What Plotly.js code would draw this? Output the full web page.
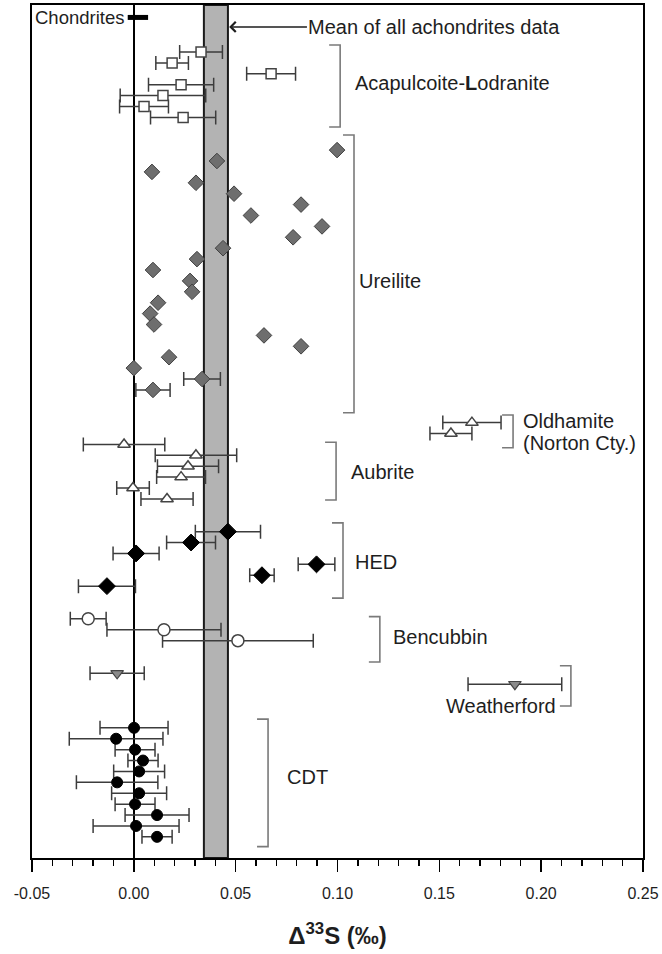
<!DOCTYPE html>
<html>
<head>
<meta charset="utf-8">
<script src="https://cdn.plot.ly/plotly-3.0.1.min.js"></script>
<style>html,body{margin:0;padding:0;background:#fff;}#chart{width:662px;height:954px;}</style>
</head>
<body>
<div id="chart"></div>
<script>
// ---- data (Δ33S ‰, 2σ error, sample row from top) ----
const acapulcoiteX   = [0.0330, 0.0188, 0.0674, 0.0232, 0.0143, 0.0050, 0.0242];
const acapulcoiteErr = [0.0105, 0.0080, 0.0120, 0.0160, 0.0210, 0.0120, 0.0160];
const acapulcoiteRow = [0, 1, 2, 3, 4, 5, 6];

const ureiliteX   = [0.0998, 0.0408, 0.0089, 0.0305, 0.0492, 0.0821, 0.0575, 0.0924, 0.0782, 0.0438, 0.0310, 0.0094,
                     0.0276, 0.0286, 0.0119, 0.0080, 0.0099, 0.0639, 0.0821, 0.0173, 0.0000, 0.0335, 0.0094];
const ureiliteErr = [null, null, null, null, null, null, null, null, null, null, null, null,
                     null, null, null, null, null, null, null, null, null, 0.0090, 0.0084];
const ureiliteRow = [9, 10, 11, 12, 13, 14, 15, 16, 17, 18, 19, 20, 21, 22, 23, 24, 25, 26, 27, 28, 29, 30, 31];

const oldhamiteX   = [0.1660, 0.1557];
const oldhamiteErr = [0.0143, 0.0103];
const oldhamiteRow = [34, 35];

const aubriteX   = [-0.0048, 0.0305, 0.0266, 0.0232, -0.0004, 0.0163];
const aubriteErr = [0.0200, 0.0200, 0.0150, 0.0120, 0.0080, 0.0128];
const aubriteRow = [36, 37, 38, 39, 40, 41];

const hedX   = [0.0462, 0.0281, 0.0011, 0.0897, 0.0629, -0.0132];
const hedErr = [0.0160, 0.0120, 0.0113, 0.0090, 0.0060, 0.0140];
const hedRow = [44, 45, 46, 47, 48, 49];

const bencubbinX   = [-0.0224, 0.0148, 0.0511];
const bencubbinErr = [0.0088, 0.0280, 0.0370];
const bencubbinRow = [52, 53, 54];

const weatherfordX   = [-0.0082, 0.1871];
const weatherfordErr = [0.0133, 0.0230];
const weatherfordRow = [57, 58];

const cdtX   = [0.0001, -0.0087, 0.0006, 0.0045, 0.0026, -0.0082, 0.0026, 0.0006, 0.0114, 0.0011, 0.0114];
const cdtErr = [0.0167, 0.0230, 0.0098, 0.0074, 0.0125, 0.0200, 0.0135, 0.0098, 0.0157, 0.0211, 0.0074];
const cdtRow = [62, 63, 64, 65, 66, 67, 68, 69, 70, 71, 72];

const chondritesRange = [-0.003, 0.007];
const chondritesRow = -3.17;

const meanAchondrites = [0.0344, 0.0462];   // band: mean ± error

const tickVals   = [-0.05, 0.00, 0.05, 0.10, 0.15, 0.20, 0.25];
const tickLabels = ['-0.05', '0.00', '0.05', '0.10', '0.15', '0.20', '0.25'];

// ---- build ----
const FONT = 'Liberation Sans, Arial, sans-serif';
const errCol = '#3c3c3c';
function errs(arr){ return {type:'data', array: arr.map(v => v === null ? NaN : v), visible:true,
  color: errCol, thickness: 1.5, width: 7}; }
function tr(x, y, e, marker){
  return {x: x, y: y, type:'scatter', mode:'markers', error_x: errs(e), marker: marker,
          hoverinfo:'x', showlegend:false, cliponaxis:false};
}
const data = [
  {x: chondritesRange, y: [chondritesRow, chondritesRow], type:'scatter', mode:'lines',
   line:{color:'#000', width:5}, showlegend:false, hoverinfo:'skip'},
  tr(acapulcoiteX, acapulcoiteRow, acapulcoiteErr, {symbol:'square', size:10, color:'#fff', line:{color:'#444', width:1.5}}),
  tr(ureiliteX, ureiliteRow, ureiliteErr, {symbol:'diamond', size:12, color:'#6e6e6e', line:{color:'#404040', width:1}}),
  tr(oldhamiteX, oldhamiteRow, oldhamiteErr, {symbol:'triangle-up', size:11, color:'#fff', line:{color:'#444', width:1.5}}),
  tr(aubriteX, aubriteRow, aubriteErr, {symbol:'triangle-up', size:11, color:'#fff', line:{color:'#444', width:1.5}}),
  tr(hedX, hedRow, hedErr, {symbol:'diamond', size:13, color:'#000', line:{color:'#000', width:1}}),
  tr(bencubbinX, bencubbinRow, bencubbinErr, {symbol:'circle', size:12, color:'#fff', line:{color:'#444', width:1.5}}),
  tr(weatherfordX, weatherfordRow, weatherfordErr, {symbol:'triangle-down', size:11, color:'#8a8a8a', line:{color:'#444', width:1.2}}),
  tr(cdtX, cdtRow, cdtErr, {symbol:'circle', size:11, color:'#000', line:{color:'#000', width:1}})
];

const bracketCol = '#7a7a7a';
const tk = 0.0054;
function bracket(x, y0, y1){
  return {type:'path', xref:'x', yref:'y', layer:'above',
    path: `M ${x-tk},${y0} L ${x},${y0} L ${x},${y1} L ${x-tk},${y1}`,
    line:{color: bracketCol, width:1.6}};
}
const shapes = [
  {type:'rect', xref:'x', yref:'paper', x0: meanAchondrites[0], x1: meanAchondrites[1], y0:0, y1:1,
   fillcolor:'#b3b3b3', line:{color:'#1a1a1a', width:2}, layer:'below'},
  bracket(0.1013, -0.64, 6.88),
  bracket(0.1081, 7.61, 33.1),
  bracket(0.1862, 33.3, 36.3),
  bracket(0.0993, 35.8, 41.1),
  bracket(0.1027, 43.2, 50.1),
  bracket(0.1208, 51.8, 55.96),
  bracket(0.2146, 56.3, 60.0),
  bracket(0.0659, 61.2, 72.9)
];

const LF = {family: FONT, size:20, color:'#1e1e1e'};
function label(text, x, y, anchor, font){
  return {text: text, x: x, y: y, xref:'x', yref:'y', xanchor: anchor || 'left', yanchor:'middle',
    showarrow:false, font: font || LF};
}
const annotations = [
  label('Chondrites', -0.0038, chondritesRow, 'right', {family: FONT, size:18.5, color:'#1e1e1e'}),
  {text:'Mean of all achondrites data', x: meanAchondrites[1] + 0.0006, y: -2.3, xref:'x', yref:'y',
   ax: 0.0850, ay: -2.3, axref:'x', ayref:'y', xanchor:'left', yanchor:'middle', borderpad:0,
   showarrow:true, arrowhead:4, arrowsize:1.3, arrowwidth:1.5, arrowcolor:'#1e1e1e', font: LF},
  label('Acapulcoite-<b>L</b>odranite', 0.1076, 2.84),
  label('Ureilite', 0.1096, 21.0),
  label('Oldhamite', 0.1901, 33.85),
  label('(Norton Cty.)', 0.1901, 35.9),
  label('Aubrite', 0.1057, 38.5),
  label('HED', 0.1076, 46.8),
  label('Bencubbin', 0.1263, 53.7),
  label('Weatherford', 0.2083, 60.0, 'right'),
  label('CDT', 0.0742, 66.5)
];

const layout = {
  width: 662, height: 954,
  margin: {l: 32, r: 19, t: 5, b: 96},
  paper_bgcolor:'#fff', plot_bgcolor:'#fff',
  showlegend:false,
  xaxis: {
    range: [-0.05, 0.25], tickmode:'array', tickvals: tickVals, ticktext: tickLabels,
    ticks:'outside', ticklen: 12, tickwidth: 1.5, tickcolor:'#000', ticklabelstandoff: 8,
    minor: {dtick: 0.01, ticks:'outside', ticklen: 6, tickwidth: 1.3, tickcolor:'#000', showgrid:false},
    showgrid:false, zeroline:true, zerolinecolor:'#000', zerolinewidth:2.5,
    showline:true, linecolor:'#000', linewidth:2, mirror:true,
    tickfont:{family: FONT, size:16, color:'#1e1e1e'},
    title:{text:'<b>Δ<sup>33</sup>S (‰)</b>', font:{family: FONT, size:24, color:'#1e1e1e'}, standoff: 26},
    automargin:false, fixedrange:true
  },
  yaxis: {
    range: [73.94, -4.31], showticklabels:false, ticks:'', showgrid:false, zeroline:false,
    showline:true, linecolor:'#000', linewidth:2, mirror:true, automargin:false, fixedrange:true
  },
  shapes: shapes,
  annotations: annotations
};

Plotly.newPlot('chart', data, layout, {staticPlot:true, displayModeBar:false});
</script>
</body>
</html>
